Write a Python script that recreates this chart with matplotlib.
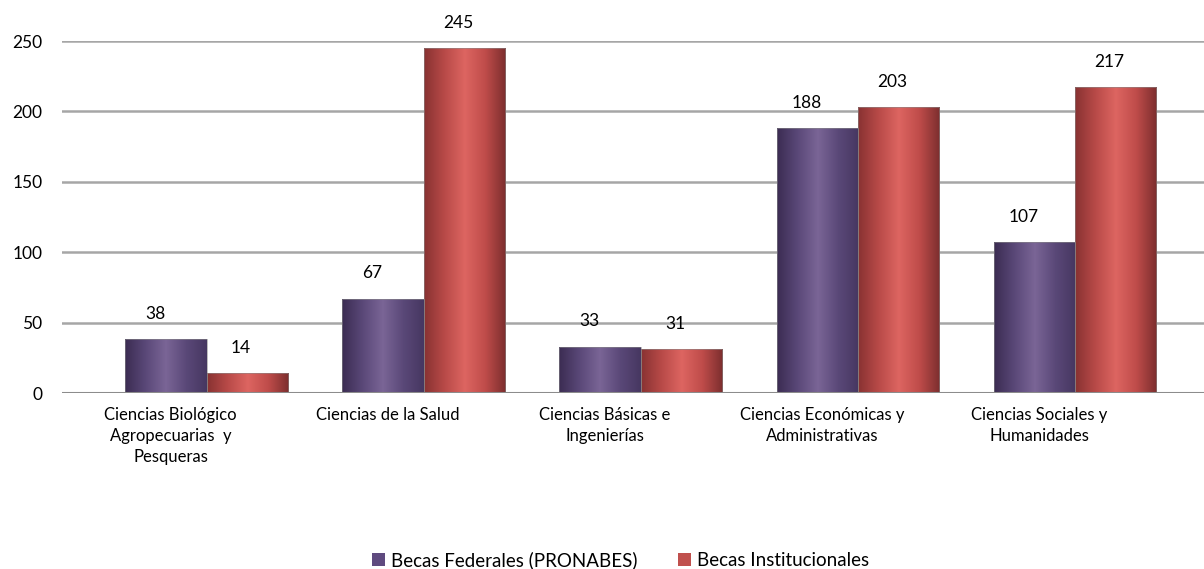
import numpy as np
import matplotlib.pyplot as plt
from matplotlib.colors import LinearSegmentedColormap
from matplotlib.patches import Patch

categories = [
    "Ciencias Biológico\nAgropecuarias  y\nPesqueras",
    "Ciencias de la Salud",
    "Ciencias Básicas e\nIngenierías",
    "Ciencias Económicas y\nAdministrativas",
    "Ciencias Sociales y\nHumanidades",
]
federales = [38, 67, 33, 188, 107]
institucionales = [14, 245, 31, 203, 217]
series_names = ["Becas Federales (PRONABES)", "Becas Institucionales"]
yticks = [0, 50, 100, 150, 200, 250]

plt.rcParams['font.family'] = ['Lato', 'DejaVu Sans']

purple_cm = LinearSegmentedColormap.from_list(
    "p", ["#3b2c52", "#5a4878", "#7a6596", "#5a4878", "#463761"])
red_cm = LinearSegmentedColormap.from_list(
    "r", ["#883232", "#b84a48", "#dd6561", "#bf4c4a", "#7c2e2e"])
grad = np.linspace(0, 1, 256).reshape(1, -1)

fig = plt.figure(figsize=(12.04, 5.69), dpi=100)
ax = fig.add_axes([62 / 1204, 176 / 569, 1 - 62 / 1204, (393 - 41) / 569])

x = np.arange(len(categories))
shift = 0.166   # depth offset of the 3D columns
w = 0.375

def gradient_bars(xpos, vals, cmap):
    bars = ax.bar(xpos, vals, w, facecolor="none", edgecolor="#8a8a8a",
                  linewidth=0.4, zorder=4)
    for b in bars:
        x0 = b.get_x()
        im = ax.imshow(grad, extent=[x0, x0 + b.get_width(), 0, b.get_height()],
                       aspect="auto", cmap=cmap, zorder=3)
        im.set_clip_path(b)
    return bars

gradient_bars(x + shift - w / 2, federales, purple_cm)
gradient_bars(x + shift + w / 2, institucionales, red_cm)

for i in range(len(categories)):
    ax.text(x[i] + shift - w / 2 - 0.05, federales[i] + 18, str(federales[i]),
            ha="center", va="center", fontsize=12.5, color="black")
    ax.text(x[i] + shift + w / 2 - 0.03, institucionales[i] + 18, str(institucionales[i]),
            ha="center", va="center", fontsize=12.5, color="black")

ax.set_xlim(-0.5, 4.76)
ax.set_ylim(0, 250)
ax.set_yticks(yticks)
ax.set_xticks(x)
ax.set_xticklabels(categories, fontsize=12, linespacing=1.37)
ax.tick_params(axis="y", length=0, pad=14, labelsize=12.5)
ax.tick_params(axis="x", length=0, pad=10)
ax.yaxis.grid(True, color="#a6a6a6", linewidth=1.8, zorder=0)
ax.set_axisbelow(True)
ax.axhline(0, color="#8c8c8c", linewidth=2.2, zorder=5)
for s in ax.spines.values():
    s.set_visible(False)

handles = [Patch(facecolor="#5f4a7f"), Patch(facecolor="#c0504d")]
fig.legend(handles, series_names, loc="center", bbox_to_anchor=(0.5154, 9 / 569),
           ncol=2, frameon=False, fontsize=13.5, handlelength=0.7, handleheight=0.7,
           handletextpad=0.3, columnspacing=2.2)

fig.savefig("out.png", dpi=100)
